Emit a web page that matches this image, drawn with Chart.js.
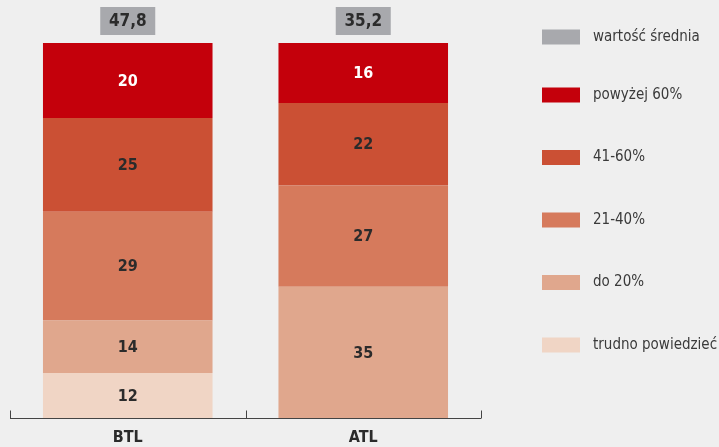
<!DOCTYPE html>
<html>
<head>
<meta charset="utf-8">
<script src="https://cdn.jsdelivr.net/npm/chart.js@4.4.1/dist/chart.umd.min.js"></script>
<style>
html,body{margin:0;padding:0;background:#efefef;}
canvas{display:block;}
</style>
</head>
<body>
<canvas id="c" width="719" height="447"></canvas>
<script>
// ---- data ----
const categories = ['BTL', 'ATL'];
const seriesNames = ['trudno powiedzieć', 'do 20%', '21-40%', '41-60%', 'powyżej 60%'];
const trudno = [12, 0];
const do20 = [14, 35];
const p21_40 = [29, 27];
const p41_60 = [25, 22];
const p60 = [20, 16];
const means = [47.8, 35.2];
const meanLabel = 'wartość średnia';

// ---- styles ----
const colors = ['#f0d5c5', '#e0a78d', '#d67a5c', '#cb5034', '#c4000b'];
const labelColors = ['#2b2b2b', '#2b2b2b', '#2b2b2b', '#2b2b2b', '#ffffff'];
const meanColor = '#a8a9ad';
const FONT = "'Liberation Sans Narrow', 'DejaVu Sans Condensed', 'Open Sans', sans-serif";

const seriesValues = [trudno, do20, p21_40, p41_60, p60];

const datasets = seriesValues.map((vals, i) => ({
  label: seriesNames[i],
  data: vals,
  backgroundColor: colors[i],
  borderWidth: 0,
  barPercentage: 0.72,
  categoryPercentage: 1.0
}));

const bgPlugin = {
  id: 'bg',
  beforeDraw(chart) {
    const ctx = chart.ctx;
    ctx.save();
    ctx.fillStyle = '#efefef';
    ctx.fillRect(0, 0, chart.width, chart.height);
    ctx.restore();
  }
};

const overlayPlugin = {
  id: 'overlay',
  afterDatasetsDraw(chart) {
    const ctx = chart.ctx;
    const xs = chart.scales.x;
    const area = chart.chartArea;
    ctx.save();
    // value labels
    ctx.textAlign = 'center';
    ctx.textBaseline = 'middle';
    ctx.font = "bold 16px " + FONT;
    chart.data.datasets.forEach((ds, di) => {
      const meta = chart.getDatasetMeta(di);
      meta.data.forEach((bar, i) => {
        const v = ds.data[i];
        if (!v) return;
        const props = bar.getProps(['x', 'y', 'base'], true);
        ctx.fillStyle = labelColors[di];
        ctx.fillText(String(v), props.x, (props.y + props.base) / 2 + 1);
      });
    });
    // mean boxes
    means.forEach((m, i) => {
      const cx = xs.getPixelForValue(i);
      ctx.fillStyle = meanColor;
      ctx.fillRect(cx - 27.5, 7, 55, 28);
      ctx.fillStyle = '#2b2b2b';
      ctx.font = "bold 17px " + FONT;
      ctx.fillText(m.toFixed(1).replace('.', ','), cx, 22);
    });
    // axis line and ticks
    ctx.strokeStyle = '#444';
    ctx.lineWidth = 1;
    const yb = area.bottom + 0.5;
    ctx.beginPath();
    ctx.moveTo(area.left, yb);
    ctx.lineTo(area.right, yb);
    const step = (xs.getPixelForValue(1) - xs.getPixelForValue(0));
    for (let i = 0; i <= categories.length; i++) {
      const x = Math.round(xs.getPixelForValue(0) - step / 2 + i * step) + 0.5;
      ctx.moveTo(x, yb);
      ctx.lineTo(x, yb - 8);
    }
    ctx.stroke();
    // legend
    const legendItems = [{ text: meanLabel, color: meanColor }];
    for (let i = seriesNames.length - 1; i >= 0; i--) {
      legendItems.push({ text: seriesNames[i], color: colors[i] });
    }
    const legendY = [37, 95, 157.5, 220, 282.5, 345];
    ctx.textAlign = 'left';
    ctx.font = "15px " + FONT;
    legendItems.forEach((it, i) => {
      const y = legendY[i];
      ctx.fillStyle = it.color;
      ctx.fillRect(542, y - 7.5, 38, 15);
      ctx.fillStyle = '#3a3a3a';
      ctx.fillText(it.text, 593, y);
    });
    ctx.restore();
  }
};

new Chart(document.getElementById('c'), {
  type: 'bar',
  data: { labels: categories, datasets },
  options: {
    responsive: false,
    animation: false,
    layout: { padding: { left: 10, right: 238, top: 43, bottom: 0 } },
    plugins: { legend: { display: false }, tooltip: { enabled: false } },
    scales: {
      x: {
        stacked: true,
        grid: { display: false, drawTicks: false },
        border: { display: false },
        afterFit: (scale) => { scale.height = 29; },
        ticks: { color: '#2b2b2b', padding: 10, font: { family: FONT, size: 16, weight: 'bold' } }
      },
      y: {
        stacked: true,
        display: false,
        min: 0,
        max: 100
      }
    }
  },
  plugins: [bgPlugin, overlayPlugin]
});
</script>
</body>
</html>
